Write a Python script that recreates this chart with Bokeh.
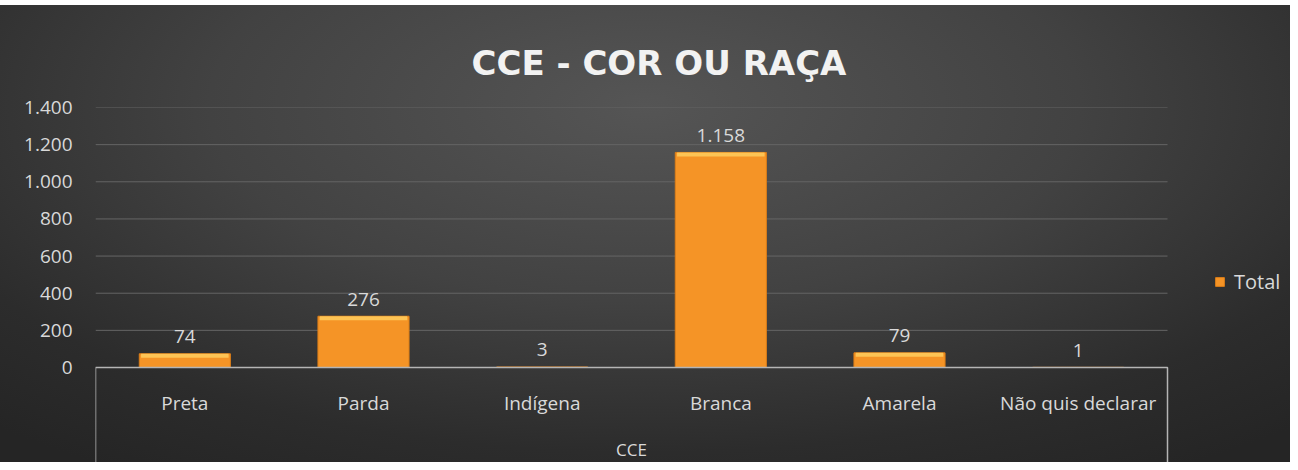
import numpy as np
from bokeh.plotting import figure
from bokeh.models import (Range1d, FixedTicker, ColumnDataSource, Legend,
                          LegendItem, Spacer, GlobalInlineStyleSheet)
from bokeh.layouts import column
from bokeh.core.properties import value
from bokeh.embed import file_html
from bokeh.resources import INLINE

# ---------------- data ----------------
categories = ["Preta", "Parda", "Indígena", "Branca", "Amarela", "Não quis declarar"]
totals = [74, 276, 3, 1158, 79, 1]
group_label = "CCE"
series_name = "Total"
title_text = "CCE - COR OU RAÇA"
y_ticks = [0, 200, 400, 600, 800, 1000, 1200, 1400]


def fmt(v):
    return f"{v:,}".replace(",", ".")


# ---------------- layout constants (pixels) ----------------
W, H = 1290, 457
FRAME_L, FRAME_T = 95, 102
AXIS_R = 1167                      # right end of the category axis box
ZERO_Y = 362                       # pixel row of value 0 inside the figure
k = (ZERO_Y - FRAME_T) / y_ticks[-1]   # px per unit
ymin = -(H - ZERO_Y) / k
n = len(categories)
cat_px = (AXIS_R - FRAME_L) / n
xmax = n + (W - AXIS_R) / cat_px
xpos = np.arange(n) + 0.5          # centre of each category slot

TXT = "#d9d9d9"
FONT = value("Open Sans")

p = figure(width=W, height=H,
           x_range=Range1d(0, xmax),
           y_range=Range1d(ymin, y_ticks[-1]),
           output_backend="svg", toolbar_location=None, x_axis_location=None,
           min_border_left=FRAME_L, min_border_right=0,
           min_border_top=FRAME_T, min_border_bottom=0,
           title=title_text)

p.background_fill_color = None
p.border_fill_color = None
p.outline_line_color = None
p.styles = {"background": "radial-gradient(ellipse 75% 95% at 50% 22%, #555555 0%, #424242 45%, #2c2c2c 80%, #252525 100%)"}
p.stylesheets = [GlobalInlineStyleSheet(css="html, body { overflow: hidden; }")]

# title
p.title.text_font = "DejaVu Sans"
p.title.text_font_style = "bold"
p.title.text_font_size = "34px"
p.title.text_color = "#f2f2f2"
p.title.align = "left"
p.title.offset = 376
p.title.standoff = 49

# grid / axis
p.xgrid.visible = False
p.ygrid.visible = False

ax = p.yaxis[0]
ax.ticker = FixedTicker(ticks=y_ticks)
ax.major_label_overrides = {t: fmt(t) for t in y_ticks}
ax.axis_line_color = None
ax.major_tick_line_color = None
ax.minor_tick_line_color = None
ax.major_tick_out = 0
ax.major_tick_in = 0
ax.major_label_standoff = 23
ax.major_label_text_font = "Open Sans"
ax.major_label_text_font_size = "19px"
ax.major_label_text_color = TXT

# horizontal gridlines limited to the category area
grid_y = [t for t in y_ticks if t > 0]
p.segment(x0=[0] * len(grid_y), x1=[n] * len(grid_y), y0=grid_y, y1=grid_y,
          line_color="#656565", line_width=1)

# bars
src = ColumnDataSource(dict(
    x=xpos,
    cat=categories,
    total=totals,
    label=[fmt(v) for v in totals],
    hl_bottom=np.maximum(np.array(totals, dtype=float) - 4 / k, 0),
))
bars = p.vbar(x="x", top="total", width=0.51, source=src,
              fill_color="#F59426", line_color="#DC7E18", line_width=1)
p.vbar(x="x", top="total", bottom="hl_bottom", width=0.49, source=src,
       fill_color="#FDC455", line_color=None)

# value labels
p.text(x="x", y="total", text="label", source=src, text_align="center",
       text_baseline="alphabetic", y_offset=-17, text_font=FONT,
       text_font_size="19px", text_color=TXT)

# category axis drawn as open box with labels
p.line(x=[0, 0, n, n], y=[ymin, 0, 0, ymin], line_color="#b5b5b5", line_width=1.5)
p.text(x="x", y=0, text="cat", source=src, text_align="center",
       text_baseline="alphabetic", y_offset=35, text_font=FONT,
       text_font_size="19px", text_color=TXT)
p.text(x=[n / 2], y=[0], text=[group_label], text_align="center",
       text_baseline="alphabetic", y_offset=82, text_font=FONT,
       text_font_size="17px", text_color=TXT)

# legend (inside the frame, right of the category box)
legend = Legend(items=[LegendItem(label=series_name, renderers=[bars])],
                location=(1119, 167), margin=0, padding=0,
                glyph_width=11, glyph_height=11, label_standoff=9,
                label_text_font="Open Sans", label_text_font_size="20px",
                label_text_color=TXT, background_fill_alpha=0,
                border_line_color=None)
p.add_layout(legend, "center")

layout = column(Spacer(height=5), p)
open("out.html", "w").write(file_html(layout, INLINE))
